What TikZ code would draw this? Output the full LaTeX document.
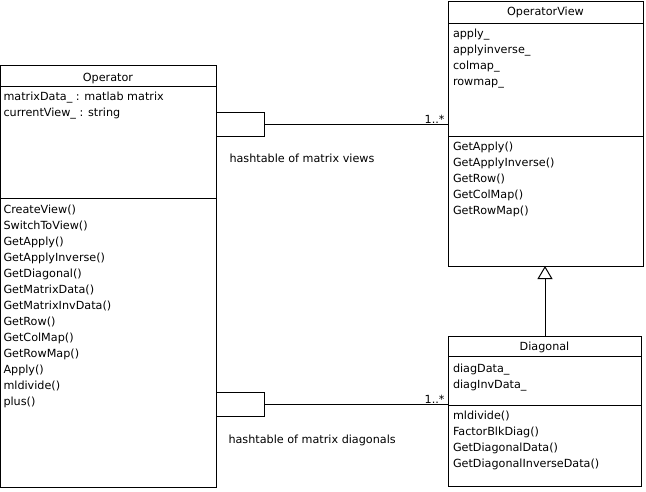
\documentclass[tikz,border=0pt]{standalone}
\usepackage{fontspec}
\setmainfont{DejaVu Sans}
\usetikzlibrary{arrows.meta}
\begin{document}
\begin{tikzpicture}[x=1pt,y=-1pt,
  line width=1pt,
  classbox/.style={draw, anchor=north west, inner sep=0pt, outer sep=0pt},
  qualbox/.style={draw, anchor=north west, inner sep=0pt, outer sep=0pt, minimum width=48pt, minimum height=24pt},
  txt/.style={anchor=north west, inner sep=0pt, align=left, font=\fontsize{11.2}{16}\selectfont},
  title/.style={anchor=base, inner sep=0pt, font=\fontsize{11.2}{16}\selectfont},
  lbl/.style={inner sep=0pt, font=\fontsize{11.2}{16}\selectfont},
  inherit/.style={-{Triangle[open,length=13pt,width=15pt]}}
]
\useasboundingbox (0,0) rectangle (646,491);
% Operator
\node[classbox, minimum width=215.5pt, minimum height=422pt] (op) at (0.5,65.5) {};
\draw (op.west |- 0,86.5) -- (op.east |- 0,86.5);
\draw (op.west |- 0,198.5) -- (op.east |- 0,198.5);
\node[title] (opname) at (108,81) {Operator};
\node[txt] (opattr) at (3,100-11.2) {\strut matrixData\_ : matlab matrix\\\strut currentView\_ : string};
\node[txt] (opmeth) at (3,213-11.2) {\strut CreateView()\\\strut SwitchToView()\\\strut GetApply()\\\strut GetApplyInverse()\\\strut GetDiagonal()\\\strut GetMatrixData()\\\strut GetMatrixInvData()\\\strut GetRow()\\\strut GetColMap()\\\strut GetRowMap()\\\strut Apply()\\\strut mldivide()\\\strut plus()};
% OperatorView
\node[classbox, minimum width=194.5pt, minimum height=265pt] (ov) at (448.5,1) {};
\draw (ov.west |- 0,23.5) -- (ov.east |- 0,23.5);
\draw (ov.west |- 0,136.5) -- (ov.east |- 0,136.5);
\node[title] (ovname) at (545.5,15) {OperatorView};
\node[txt] (ovattr) at (452.5,37-11.2) {\strut apply\_\\\strut applyinverse\_\\\strut colmap\_\\\strut rowmap\_};
\node[txt] (ovmeth) at (452.5,149.5-11.2) {\strut GetApply()\\\strut GetApplyInverse()\\\strut GetRow()\\\strut GetColMap()\\\strut GetRowMap()};
% Diagonal
\node[classbox, minimum width=192.5pt, minimum height=150pt] (dg) at (448.5,336.5) {};
\draw (dg.west |- 0,356.5) -- (dg.east |- 0,356.5);
\draw (dg.west |- 0,405.5) -- (dg.east |- 0,405.5);
\node[title] (dgname) at (544.5,350.5) {Diagonal};
\node[txt] (dgattr) at (452.5,372-11.2) {\strut diagData\_\\\strut diagInvData\_};
\node[txt] (dgmeth) at (452.5,419-11.2) {\strut mldivide()\\\strut FactorBlkDiag()\\\strut GetDiagonalData()\\\strut GetDiagonalInverseData()};
% qualifier boxes and associations
\node[qualbox] (q1) at (216,112.5) {};
\node[qualbox] (q2) at (216,392.5) {};
\draw (q1.east) -- (q1.east -| ov.west);
\draw (q2.east) -- (q2.east -| dg.west);
\node[lbl, anchor=base east] (m1) at (445,123) {1..*};
\node[lbl, anchor=base east] (m2) at (445,403) {1..*};
\node[lbl, anchor=base west] (l1) at (229,162) {hashtable of matrix views};
\node[lbl, anchor=base west] (l2) at (228,443) {hashtable of matrix diagonals};
% inheritance
\draw[inherit] (dg.north -| 545,0) -- (ov.south -| 545,0);
\end{tikzpicture}
\end{document}
